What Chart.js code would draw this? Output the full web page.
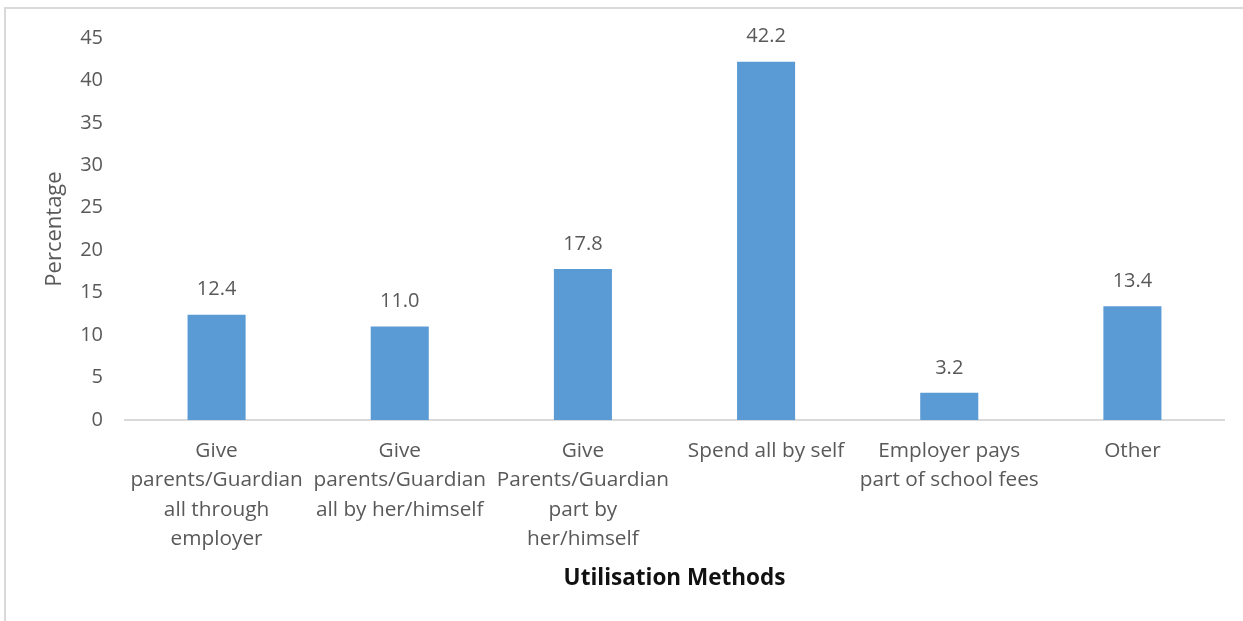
<!DOCTYPE html>
<html>
<head>
<meta charset="utf-8">
<style>
  html, body { margin: 0; padding: 0; background: #fff; overflow: hidden; }
  #wrap { position: relative; width: 1243px; height: 621px; }
  #frame { position: absolute; left: 4px; top: 7px; width: 1400px; height: 800px;
           border-top: 2px solid #d9d9d9; border-left: 2px solid #d9d9d9; }
  canvas { position: absolute; left: 0; top: 0; }
</style>
<script src="https://cdn.jsdelivr.net/npm/chart.js@4/dist/chart.umd.min.js"></script>
</head>
<body>
<div id="wrap">
  <div id="frame"></div>
  <canvas id="c" width="1243" height="621"></canvas>
</div>
<script>
const categories = [
  ["Give", "parents/Guardian", "all through", "employer"],
  ["Give", "parents/Guardian", "all by her/himself"],
  ["Give", "Parents/Guardian", "part by", "her/himself"],
  ["Spend all by self"],
  ["Employer pays", "part of school fees"],
  ["Other"]
];
const percentages = [12.4, 11.0, 17.8, 42.2, 3.2, 13.4];
const yTicks = [0, 5, 10, 15, 20, 25, 30, 35, 40, 45];

const FONT = "'Open Sans', 'DejaVu Sans', sans-serif";
const GREY = "#595959";

// Writes each bar's value above it, one decimal place
const valueLabels = {
  id: "valueLabels",
  afterDatasetsDraw(chart) {
    const ctx = chart.ctx;
    ctx.save();
    ctx.font = "20px " + FONT;
    ctx.fillStyle = GREY;
    ctx.textAlign = "center";
    ctx.textBaseline = "middle";
    chart.getDatasetMeta(0).data.forEach((bar, i) => {
      ctx.fillText(percentages[i].toFixed(1), bar.x, bar.y - 25);
    });
    ctx.restore();
  }
};

new Chart(document.getElementById("c"), {
  type: "bar",
  data: {
    labels: categories,
    datasets: [{
      data: percentages,
      backgroundColor: "#5b9bd5",
      borderWidth: 0,
      barPercentage: 0.317,
      categoryPercentage: 1.0
    }]
  },
  options: {
    responsive: false,
    animation: false,
    events: [],
    layout: { padding: { left: 0, right: 19, top: 38, bottom: 29 } },
    plugins: { legend: { display: false }, tooltip: { enabled: false } },
    scales: {
      x: {
        grid: { display: false, drawTicks: false },
        border: { display: true, color: "#d9d9d9", width: 2 },
        ticks: {
          color: GREY,
          font: { family: FONT, size: 20.8, lineHeight: 1.42 },
          autoSkip: false,
          maxRotation: 0,
          minRotation: 0,
          padding: 16
        },
        title: {
          display: true,
          text: "Utilisation Methods",
          color: "#111",
          font: { family: FONT, size: 22.5, weight: "bold" },
          padding: { top: 14, bottom: 0 }
        },
        afterFit(scale) { scale.height = 172; }
      },
      y: {
        min: 0,
        max: 45,
        afterBuildTicks(scale) { scale.ticks = yTicks.map(v => ({ value: v })); },
        grid: { display: false, drawTicks: false },
        border: { display: false },
        ticks: {
          color: GREY,
          font: { family: FONT, size: 20 },
          padding: 22
        },
        title: {
          display: true,
          text: "Percentage",
          color: GREY,
          font: { family: FONT, size: 22 },
          padding: { top: 42, bottom: 0 }
        },
        afterFit(scale) { scale.width = 125; }
      }
    }
  },
  plugins: [valueLabels]
});
</script>
</body>
</html>
